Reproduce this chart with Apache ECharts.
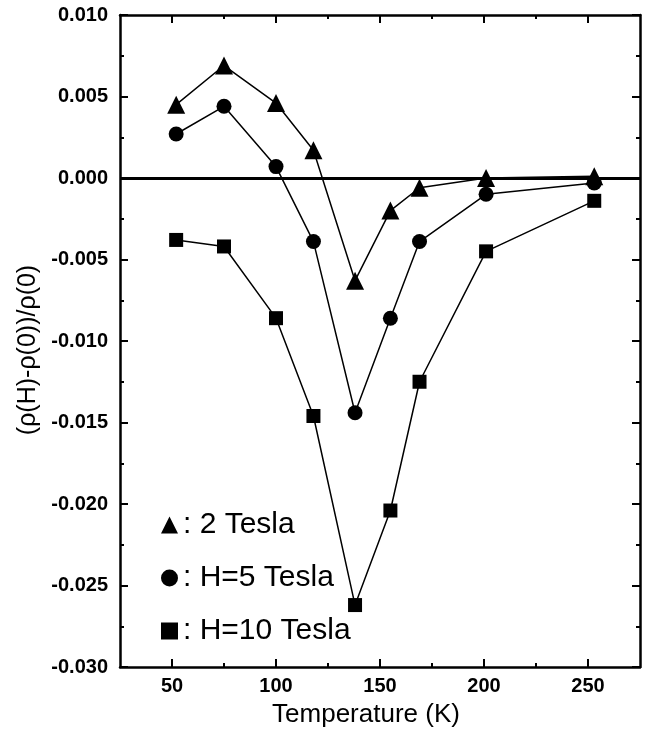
<!DOCTYPE html>
<html>
<head>
<meta charset="utf-8">
<script src="https://cdn.jsdelivr.net/npm/echarts@6/dist/echarts.min.js"></script>
<style>
  html, body { margin: 0; padding: 0; background: #fff; }
  #main { width: 651px; height: 734px; }
</style>
</head>
<body>
<div id="main"></div>
<script>
  // temperatures (K) and relative magnetoresistance for each field
  const temps = [52, 75, 100, 118, 138, 155, 169, 201, 253]
  const tesla2 = [0.0045, 0.0069, 0.0046, 0.0017, -0.0063, -0.0020, -0.0006, 0.0000, 0.0001]
  const tesla5 = [0.0027, 0.0044, 0.0007, -0.0039, -0.0144, -0.0086, -0.0039, -0.0010, -0.0003]
  const tesla10 = [-0.0038, -0.0042, -0.0086, -0.0146, -0.0262, -0.0204, -0.0125, -0.0045, -0.0014]
  const xMajor = [50, 100, 150, 200, 250]
  const xMinor = [75, 125, 175, 225]

  const font = 'Liberation Sans, Arial, Helvetica, sans-serif'
  const pairs = ys => temps.map((t, i) => [t, ys[i]])

  const xBase = {
    type: 'value',
    min: 25,
    max: 275,
    splitLine: { show: false }
  }
  const yBase = {
    type: 'value',
    min: -0.03,
    max: 0.01,
    interval: 0.005,
    splitLine: { show: false },
    minorSplitLine: { show: false },
    axisTick: { inside: true, length: 8, lineStyle: { color: '#000', width: 2 } },
    minorTick: { show: true, splitNumber: 2, length: 4, lineStyle: { color: '#000', width: 2 } }
  }

  const chart = echarts.init(document.getElementById('main'))
  const option = {
    backgroundColor: '#fff',
    animation: false,
    grid: { left: 120, right: 11, top: 15, bottom: 67 },
    legend: {
      orient: 'vertical',
      left: 156,
      top: 504,
      itemWidth: 17,
      itemHeight: 17,
      itemGap: 21,
      data: [
        { name: ': 2 Tesla', icon: 'triangle' },
        { name: ': H=5 Tesla', icon: 'circle' },
        { name: ': H=10 Tesla', icon: 'rect' }
      ],
      textStyle: { fontFamily: font, fontSize: 30, color: '#000', lineHeight: 32 }
    },
    xAxis: [
      Object.assign({}, xBase, {
        position: 'bottom',
        name: 'Temperature (K)',
        nameLocation: 'middle',
        nameGap: 35,
        nameTextStyle: { fontFamily: font, fontSize: 26, color: '#000', padding: [0, 28, 0, 0] },
        axisLine: { show: true, onZero: false, lineStyle: { color: '#000', width: 2.5 } },
        axisTick: { inside: true, length: 8, customValues: xMajor, lineStyle: { color: '#000', width: 2 } },
        axisLabel: { customValues: xMajor, margin: 9, fontFamily: font, fontSize: 20, fontWeight: 'bold', color: '#000' }
      }),
      Object.assign({}, xBase, {
        position: 'bottom',
        axisLine: { show: false, onZero: false },
        axisTick: { inside: true, length: 4, customValues: xMinor, lineStyle: { color: '#000', width: 2 } },
        axisLabel: { show: false }
      }),
      Object.assign({}, xBase, {
        position: 'top',
        axisLine: { show: true, onZero: false, lineStyle: { color: '#000', width: 2.5 } },
        axisTick: { inside: true, length: 8, customValues: xMajor, lineStyle: { color: '#000', width: 2 } },
        axisLabel: { show: false }
      }),
      Object.assign({}, xBase, {
        position: 'top',
        axisLine: { show: false, onZero: false },
        axisTick: { inside: true, length: 4, customValues: xMinor, lineStyle: { color: '#000', width: 2 } },
        axisLabel: { show: false }
      })
    ],
    yAxis: [
      Object.assign({}, yBase, {
        position: 'left',
        name: '(ρ(H)-ρ(0))/ρ(0)',
        nameLocation: 'middle',
        nameGap: 78,
        nameTextStyle: { fontFamily: font, fontSize: 25, color: '#000', padding: [0, 18, 0, 0] },
        axisLine: { show: true, onZero: false, lineStyle: { color: '#000', width: 2.5 } },
        axisLabel: {
          margin: 12,
          fontFamily: font,
          fontSize: 20,
          fontWeight: 'bold',
          color: '#000',
          formatter: v => v.toFixed(3)
        }
      }),
      Object.assign({}, yBase, {
        position: 'right',
        axisLine: { show: true, onZero: false, lineStyle: { color: '#000', width: 2.5 } },
        axisLabel: { show: false }
      })
    ],
    series: [
      {
        name: ': 2 Tesla',
        type: 'line',
        data: pairs(tesla2),
        symbol: 'triangle',
        symbolSize: 18,
        itemStyle: { color: '#000' },
        lineStyle: { color: '#000', width: 1.5 },
        z: 3,
        markLine: {
          silent: true,
          symbol: 'none',
          label: { show: false },
          lineStyle: { color: '#000', width: 3, type: 'solid' },
          data: [{ yAxis: 0 }],
          z: 2
        }
      },
      {
        name: ': H=5 Tesla',
        type: 'line',
        data: pairs(tesla5),
        symbol: 'circle',
        symbolSize: 15,
        itemStyle: { color: '#000' },
        lineStyle: { color: '#000', width: 1.5 },
        z: 3
      },
      {
        name: ': H=10 Tesla',
        type: 'line',
        data: pairs(tesla10),
        symbol: 'rect',
        symbolSize: 14,
        itemStyle: { color: '#000' },
        lineStyle: { color: '#000', width: 1.5 },
        z: 3
      }
    ]
  }
  chart.setOption(option)
</script>
</body>
</html>
